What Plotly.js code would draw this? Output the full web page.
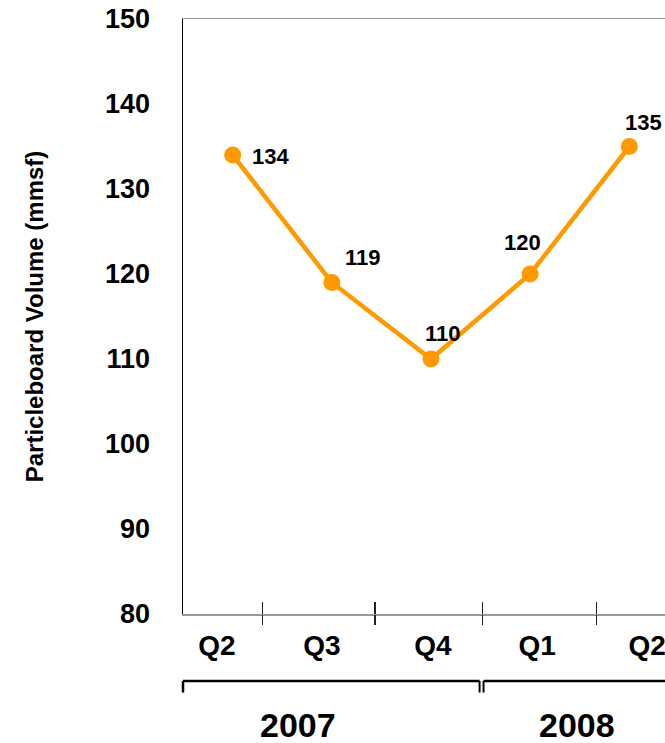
<!DOCTYPE html>
<html>
<head>
<meta charset="utf-8">
<script src="https://cdn.plot.ly/plotly-3.0.1.min.js"></script>
<style>html,body{margin:0;padding:0;background:#fff;}#chart{width:665px;height:743px;}</style>
</head>
<body>
<div id="chart"></div>
<script>
// ---- data ----
const quarters = ['Q2', 'Q3', 'Q4', 'Q1', 'Q2'];
const volume = [134, 119, 110, 120, 135];
const years = ['2007', '2008'];
const yTicks = [80, 90, 100, 110, 120, 130, 140, 150];

// ---- layout helpers (positions in category-index units) ----
const xIdx = quarters.map((q, i) => i);
const quarterLabelPos = [-0.16, 0.90, 2.02, 3.07, 4.18];
const separatorPos = [0.299, 1.435, 2.517, 3.671];
const yearLabelPos = [0.66, 3.47];
const labelOffsets = [[38, 1], [31, -25], [12, -26], [-8, -32], [14, -24]];
const xRange = [-0.501, 4.36];

const FONT = 'Liberation Sans, Arial, sans-serif';
const ORANGE = '#FF9900';

const trace = {
  x: xIdx,
  y: volume,
  type: 'scatter',
  mode: 'lines+markers',
  line: {color: ORANGE, width: 4.5},
  marker: {color: ORANGE, size: 17},
  cliponaxis: false,
  hoverinfo: 'skip',
  showlegend: false
};
// invisible carriers so the overlaid tick-label / separator axes are drawn
const carriers = ['x2', 'x3', 'x4'].map(ax => ({
  x: xIdx, y: volume, xaxis: ax, yaxis: 'y',
  type: 'scatter', mode: 'none', hoverinfo: 'skip', showlegend: false
}));

const annotations = volume.map((v, i) => ({
  x: xIdx[i], y: v, xref: 'x', yref: 'y',
  text: String(v), showarrow: false,
  xshift: labelOffsets[i][0], yshift: -labelOffsets[i][1],
  font: {family: FONT, size: 22, color: '#000', weight: 'bold'},
  xanchor: 'center', yanchor: 'middle'
})).concat(years.map((yr, i) => ({
  x: yearLabelPos[i], y: -0.187, xref: 'x', yref: 'paper',
  text: yr, showarrow: false,
  font: {family: FONT, size: 34, color: '#000', weight: 'bold'},
  xanchor: 'center', yanchor: 'middle'
})));

const yb = -0.1127, yb2 = -0.132;
const shapes = [
  {type: 'line', xref: 'paper', yref: 'paper', x0: 0, x1: 0, y0: yb, y1: yb2, line: {color: '#000', width: 2.5}},
  {type: 'line', xref: 'x', yref: 'paper', x0: xRange[0], x1: 2.49, y0: yb, y1: yb, line: {color: '#000', width: 2.5}},
  {type: 'line', xref: 'x', yref: 'paper', x0: 2.53, x1: xRange[1], y0: yb, y1: yb, line: {color: '#000', width: 2.5}},
  {type: 'line', xref: 'x', yref: 'paper', x0: 2.49, x1: 2.49, y0: yb, y1: yb2, line: {color: '#000', width: 2}},
  {type: 'line', xref: 'x', yref: 'paper', x0: 2.53, x1: 2.53, y0: yb, y1: yb2, line: {color: '#000', width: 2}}
];

const layout = {
  width: 665, height: 743,
  margin: {l: 183, r: 0, t: 19, b: 129},
  paper_bgcolor: '#fff', plot_bgcolor: '#fff',
  font: {family: FONT, color: '#000'},
  xaxis: {
    range: xRange, showgrid: false, zeroline: false,
    showline: true, linecolor: '#999', linewidth: 1.5, mirror: true,
    showticklabels: false, ticks: '', fixedrange: true
  },
  xaxis2: {
    overlaying: 'x', anchor: 'y', side: 'bottom', range: xRange,
    tickmode: 'array', tickvals: quarterLabelPos, ticktext: quarters,
    showline: false, showgrid: false, zeroline: false, ticks: '',
    ticklabelstandoff: 12, ticklabeloverflow: 'allow',
    tickfont: {family: FONT, size: 28, color: '#000', weight: 'bold'}
  },
  xaxis3: {
    overlaying: 'x', anchor: 'y', side: 'bottom', range: xRange,
    tickmode: 'array', tickvals: separatorPos, ticktext: separatorPos.map(() => ''),
    showline: false, showgrid: false, zeroline: false,
    ticks: 'inside', ticklen: 12, tickwidth: 1.5, tickcolor: '#222', showticklabels: false
  },
  xaxis4: {
    overlaying: 'x', anchor: 'y', side: 'bottom', range: xRange,
    tickmode: 'array', tickvals: separatorPos, ticktext: separatorPos.map(() => ''),
    showline: false, showgrid: false, zeroline: false,
    ticks: 'outside', ticklen: 10, tickwidth: 1.5, tickcolor: '#222', showticklabels: false
  },
  yaxis: {
    range: [80, 150], tickmode: 'array', tickvals: yTicks,
    showgrid: false, zeroline: false,
    showline: true, linecolor: '#000', linewidth: 1.5,
    ticks: '', ticklabelstandoff: 26,
    tickfont: {family: FONT, size: 27, color: '#000', weight: 'bold'},
    title: {text: 'Particleboard Volume (mmsf)', standoff: 54,
            font: {family: FONT, size: 24, color: '#000', weight: 'bold'}},
    fixedrange: true
  },
  annotations: annotations,
  shapes: shapes
};

Plotly.newPlot('chart', carriers.concat([trace]), layout, {displayModeBar: false, staticPlot: true});
</script>
</body>
</html>
